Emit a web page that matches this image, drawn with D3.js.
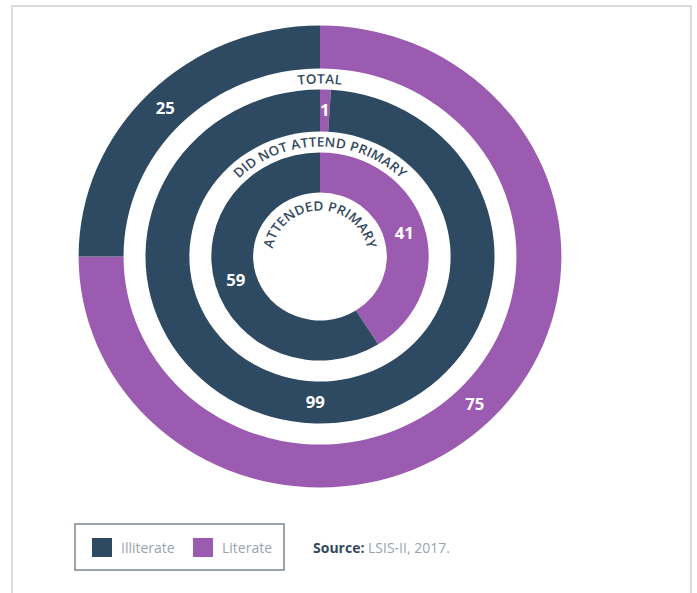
<!DOCTYPE html>
<html><head><meta charset="utf-8">
<script src="https://cdn.jsdelivr.net/npm/d3@7"></script>
<style>
html,body{margin:0;padding:0;background:#fff;}
svg{display:block;font-family:"Open Sans",sans-serif;}
</style></head>
<body><svg id="chart" width="697" height="593"></svg>
<script>
const rings = ["TOTAL", "DID NOT ATTEND PRIMARY", "ATTENDED PRIMARY"];
const literate = [75, 1, 41];
const illiterate = [25, 99, 59];
const legendLabels = ["Illiterate", "Literate"];
const colors = {Illiterate: "#2d4a62", Literate: "#9b5bb0"};

const svg = d3.select("#chart");
// frame
svg.append("rect").attr("x", 12).attr("y", 6).attr("width", 679).attr("height", 600)
  .attr("fill", "#fff").attr("stroke", "#dcdcdc").attr("stroke-width", 2);

const cx = 320, cy = 256.5, sx = 1.045;
const radii = [[188, 231], [125, 167], [64, 104]];       // ring inner/outer
const titleR = [173, 110, 46];                           // ring title baselines
const titleSize = [13, 13, 13];
const titleSpacing = [0.3, 0.2, 0.1];

const g = svg.append("g").attr("transform", `translate(${cx},${cy}) scale(${sx},1)`);
const pie = d3.pie().sort(null).value(d => d.v);

rings.forEach((name, i) => {
  const data = [{k: "Literate", v: literate[i]}, {k: "Illiterate", v: illiterate[i]}];
  const arcs = pie(data);
  const arc = d3.arc().innerRadius(radii[i][0]).outerRadius(radii[i][1]);
  const rg = g.append("g");
  rg.selectAll("path").data(arcs).join("path")
    .attr("d", arc).attr("fill", d => colors[d.data.k]);
  rg.selectAll("text").data(arcs).join("text")
    .attr("transform", d => `translate(${arc.centroid(d)})`)
    .attr("text-anchor", "middle").attr("dy", "0.36em")
    .attr("fill", "#fff").attr("font-weight", 700).attr("font-size", 16)
    .text(d => d.data.v);
  // curved title
  const r = titleR[i];
  g.append("path").attr("id", "tp" + i).attr("fill", "none")
    .attr("d", `M ${-r},0 A ${r} ${r} 0 0 1 ${r},0`);
  g.append("text").attr("font-size", titleSize[i]).attr("font-weight", 600)
    .attr("fill", "#34495e").attr("letter-spacing", titleSpacing[i])
    .append("textPath").attr("href", "#tp" + i)
    .attr("startOffset", "50%").attr("text-anchor", "middle")
    .text(name);
});

// legend
const lg = svg.append("g");
lg.append("rect").attr("x", 75).attr("y", 524).attr("width", 209).attr("height", 46)
  .attr("fill", "#fff").attr("stroke", "#7d8894").attr("stroke-width", 1.5);
const lx = [92, 193];
legendLabels.forEach((k, i) => {
  lg.append("rect").attr("x", lx[i]).attr("y", 538).attr("width", 20).attr("height", 19)
    .attr("fill", colors[k]);
  lg.append("text").attr("x", lx[i] + 29).attr("y", 553).attr("font-size", 14)
    .attr("fill", "#9aa4ae").text(k);
});
const src = svg.append("text").attr("x", 313).attr("y", 553).attr("font-size", 14);
src.append("tspan").attr("font-weight", 700).attr("fill", "#34495e").text("Source: ");
src.append("tspan").attr("fill", "#9aa4ae").text("LSIS-II, 2017.");
</script></body></html>
